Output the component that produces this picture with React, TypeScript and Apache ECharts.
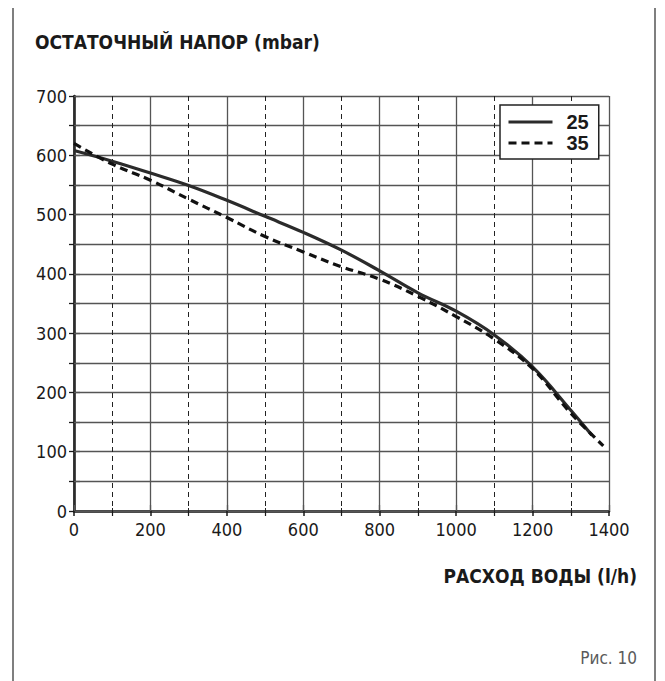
import React, { useEffect, useRef } from "react";
import * as echarts from "echarts";

const flow25: number[] = [0, 100, 200, 300, 400, 500, 600, 700, 800, 900, 1000, 1100, 1200, 1300, 1355];
const head25: number[] = [608, 590, 570, 549, 524, 497, 470, 440, 405, 368, 337, 297, 243, 170, 128];
const flow35: number[] = [0, 100, 200, 300, 400, 500, 600, 700, 800, 900, 1000, 1100, 1200, 1300, 1385];
const head35: number[] = [620, 585, 558, 526, 495, 463, 437, 412, 391, 362, 328, 290, 240, 165, 110];
const seriesNames: string[] = ["25", "35"];
const titleText = "ОСТАТОЧНЫЙ НАПОР (mbar)";
const xAxisTitle = "РАСХОД ВОДЫ (l/h)";
const figureText = "Рис. 10";

const App: React.FC = () => {
  const ref = useRef<HTMLDivElement>(null);
  useEffect(() => {
    if (!ref.current) return;
    const chart = echarts.init(ref.current, undefined, { renderer: "svg" });
    const labelFont = "'DejaVu Sans Condensed', sans-serif";
    const legendFont = "'Liberation Sans', Arial, sans-serif";
    chart.setOption({
      animation: false,
      backgroundColor: "#ffffff",
      title: [
        {
          text: titleText,
          left: 30,
          top: 27,
          textStyle: { fontFamily: labelFont, fontWeight: "bold", fontSize: 19, color: "#1a1a1a" },
        },
        {
          text: xAxisTitle,
          right: 23,
          top: 561,
          textStyle: { fontFamily: labelFont, fontWeight: "bold", fontSize: 19, color: "#1a1a1a" },
        },
        {
          text: figureText,
          right: 23,
          top: 644,
          textStyle: { fontFamily: labelFont, fontWeight: "normal", fontSize: 17, color: "#5a5a5a" },
        },
      ],
      legend: {
        orient: "vertical",
        left: 500,
        top: 105,
        data: seriesNames,
        itemWidth: 44,
        itemHeight: 14,
        itemGap: 1,
        padding: [7, 10, 6, 7],
        borderColor: "#222",
        borderWidth: 1.5,
        backgroundColor: "#fff",
        itemStyle: { opacity: 0, borderWidth: 0 },
        lineStyle: { width: 3 },
        textStyle: {
          fontFamily: legendFont,
          fontWeight: "bold",
          fontSize: 20,
          lineHeight: 20,
          color: "#1a1a1a",
          padding: [0, 0, 0, 9],
        },
      },
      grid: { left: 74, top: 96, width: 535, height: 415, containLabel: false },
      xAxis: [
        {
          type: "value",
          min: 0,
          max: 1400,
          interval: 200,
          axisLine: { show: true, lineStyle: { color: "#1a1a1a", width: 2.5 } },
          axisTick: { show: true, length: 5, lineStyle: { color: "#1a1a1a", width: 1.5 } },
          minorTick: { show: true, splitNumber: 2, length: 5, lineStyle: { color: "#1a1a1a", width: 1.2 } },
          axisLabel: {
            fontFamily: labelFont,
            fontSize: 18,
            color: "#1a1a1a",
            margin: 9,
            formatter: (v: number) => String(v),
          },
          splitLine: { show: true, lineStyle: { color: "#555", width: 1.3 } },
          minorSplitLine: { show: true, lineStyle: { color: "#222", width: 1, type: [5, 4] } },
        },
        {
          type: "value",
          position: "top",
          min: 0,
          max: 1400,
          interval: 200,
          axisLine: { show: true, lineStyle: { color: "#555", width: 1.3 } },
          axisTick: { show: true, length: 6, lineStyle: { color: "#555", width: 1.3 } },
          minorTick: { show: true, splitNumber: 2, length: 6, lineStyle: { color: "#222", width: 1, type: [3, 2] } },
          axisLabel: { show: false },
          splitLine: { show: false },
        },
      ],
      yAxis: [
        {
          type: "value",
          min: 0,
          max: 700,
          interval: 50,
          axisLine: { show: true, lineStyle: { color: "#1a1a1a", width: 2.5 } },
          axisTick: { show: true, length: 5, lineStyle: { color: "#1a1a1a", width: 1.3 } },
          axisLabel: {
            fontFamily: labelFont,
            fontSize: 18,
            color: "#1a1a1a",
            margin: 7,
            formatter: (v: number) => (v % 100 === 0 ? String(v) : ""),
          },
          splitLine: { show: true, lineStyle: { color: "#555", width: 1.3 } },
        },
        {
          type: "value",
          position: "right",
          min: 0,
          max: 700,
          interval: 50,
          axisLine: { show: true, lineStyle: { color: "#333", width: 1.5 } },
          axisTick: { show: true, length: 6, lineStyle: { color: "#555", width: 1.3 } },
          axisLabel: { show: false },
          splitLine: { show: false },
        },
      ],
      series: [
        {
          name: seriesNames[0],
          type: "line",
          smooth: 0.4,
          symbol: "none",
          data: flow25.map((x, i) => [x, head25[i]]),
          lineStyle: { color: "#2b2b2b", width: 3.2 },
          itemStyle: { color: "#2b2b2b" },
          z: 3,
        },
        {
          name: seriesNames[1],
          type: "line",
          smooth: 0.4,
          symbol: "none",
          data: flow35.map((x, i) => [x, head35[i]]),
          lineStyle: { color: "#111", width: 3.2, type: [8, 5] },
          itemStyle: { color: "#111" },
          z: 4,
        },
      ],
      graphic: [
        {
          type: "rect",
          shape: { x: 13, y: 6, width: 642, height: 700 },
          style: { fill: "none", stroke: "#555", lineWidth: 1.5 },
          silent: true,
        },
      ],
    });
    return () => chart.dispose();
  }, []);
  return <div ref={ref} style={{ width: 665, height: 681, marginLeft: -8, marginTop: -8 }} />;
};

export default App;
